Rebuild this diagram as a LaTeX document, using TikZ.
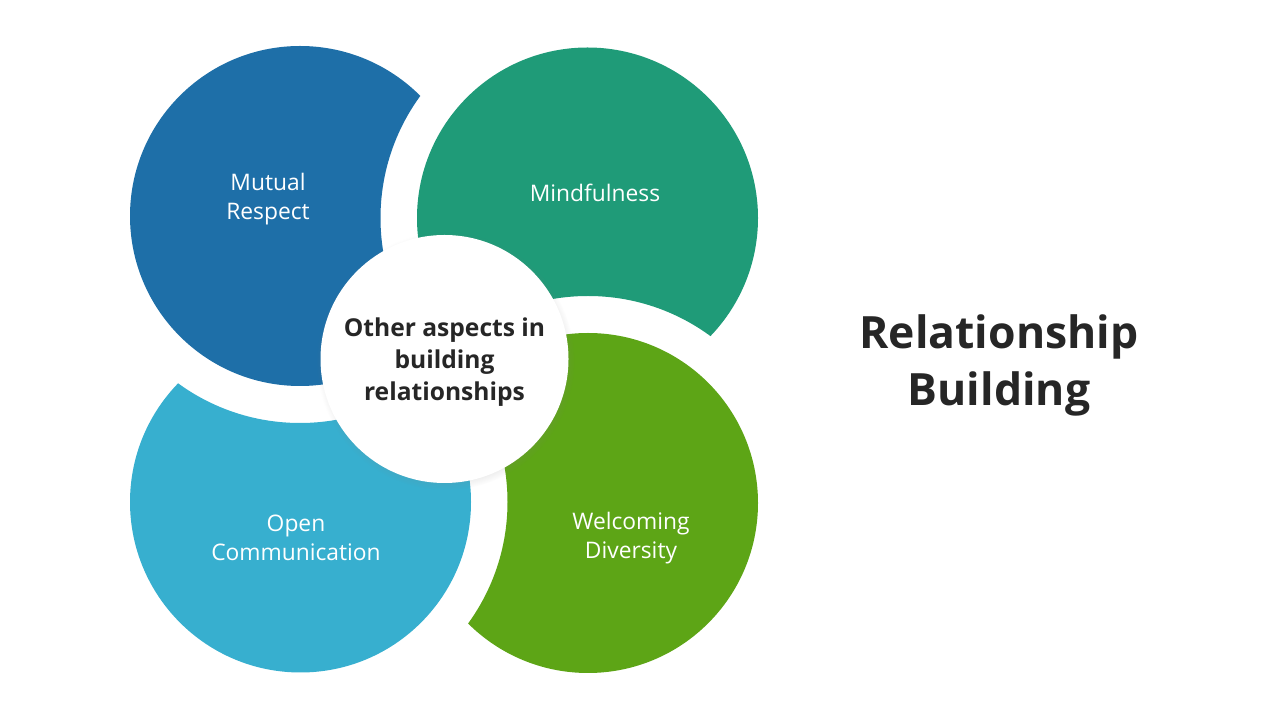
\documentclass[tikz,border=0pt]{standalone}
\usepackage{fontspec}
\setmainfont{Open Sans}
\usetikzlibrary{shadows}

\definecolor{respectblue}{HTML}{1E6FA8}
\definecolor{mindgreen}{HTML}{1F9B78}
\definecolor{opencyan}{HTML}{37AFCF}
\definecolor{diverselime}{HTML}{5DA516}
\definecolor{darktext}{HTML}{262626}

\tikzset{
	petaltext/.style={text=white, align=center, font=\fontsize{22.8}{29}\selectfont},
	hubtext/.style={text=darktext, align=center, font=\bfseries\fontsize{24.6}{32}\selectfont},
	hub/.style={circle, fill=white, minimum size=248pt, inner sep=0pt,
		circular drop shadow={shadow xshift=1pt, shadow yshift=-2pt, shadow scale=1.04, opacity=0.3}},
}

\begin{document}
\begin{tikzpicture}[x=1pt, y=1pt]
	
	\useasboundingbox (0,0) rectangle (1280,720);
	
	% blue, notched by the green one
	\begin{scope}[even odd rule]
		\clip (0,0) rectangle (1280,720) (587.5,502) circle (207);
		\fill[respectblue] (300,504) circle (170);
	\end{scope}
	
	% green, notched by the lime one
	\begin{scope}[even odd rule]
		\clip (0,0) rectangle (1280,720) (588,217) circle (207);
		\fill[mindgreen] (587.5,502) circle (170.5);
	\end{scope}
	
	% lime, notched by the cyan one
	\begin{scope}[even odd rule]
		\clip (0,0) rectangle (1280,720) (300.5,218) circle (207);
		\fill[diverselime] (588,217) circle (170);
	\end{scope}
	
	% cyan, notched by the blue one
	\begin{scope}[even odd rule]
		\clip (0,0) rectangle (1280,720) (300,504) circle (207);
		\fill[opencyan] (300.5,218) circle (170.5);
	\end{scope}
	
	\node[petaltext] (respect) at (268,521) {Mutual\\Respect};
	
	\node[petaltext] (mind) at (595,527) {Mindfulness};
	
	\node[petaltext] (open) at (296,182) {Open\\Communication};
	
	\node[petaltext] (diverse) at (631,182) {Welcoming\\Diversity};
	
	\node[hub] (core) at (444.5,361) {};
	
	\node[hubtext] (aspects) at (444.5,358) {Other aspects in\\building\\relationships};
	
	\node[text=darktext, align=center, font=\bfseries\fontsize{44.5}{57}\selectfont] (title) at (999,355) {Relationship\\Building};
	
\end{tikzpicture}
\end{document}
